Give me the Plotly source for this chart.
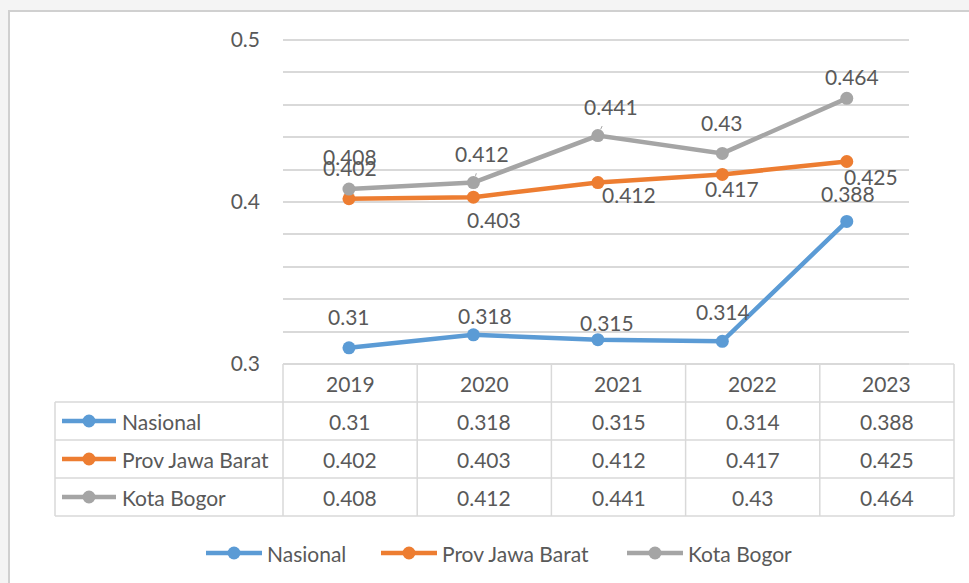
import plotly.graph_objects as go

years = ["2019", "2020", "2021", "2022", "2023"]
series_names = ["Nasional", "Prov Jawa Barat", "Kota Bogor"]
nasional = [0.31, 0.318, 0.315, 0.314, 0.388]
jabar = [0.402, 0.403, 0.412, 0.417, 0.425]
bogor = [0.408, 0.412, 0.441, 0.43, 0.464]
y_ticks = [0.3, 0.4, 0.5]

values = [nasional, jabar, bogor]
colors = ["#5B9BD5", "#ED7D31", "#A5A5A5"]
# label pixel offsets (dx, dy) relative to the point, per series
label_offsets = [
    [(0, -31), (12, -19), (9, -17), (1, -30), (1, -28)],
    [(1, -31), (21, 22), (31, 12), (10, 14), (24, 15)],
    [(1, -33), (9, -29), (13, -29), (0, -31), (5, -22)],
]
leader = {(2, 1), (2, 2)}

W, H = 969, 583
FONT = "Lato"
FS = 21
TXT = "#595959"
GRID = "#D9D9D9"


def px(x):
    return x / W


def py(y):
    return 1 - y / H


fig = go.Figure()
xs = list(range(len(years)))
for name, vals, col in zip(series_names, values, colors):
    fig.add_trace(go.Scatter(
        x=xs, y=vals, name=name, mode="lines+markers",
        line=dict(color=col, width=4.5),
        marker=dict(color=col, size=13),
        cliponaxis=False, showlegend=False, hoverinfo="skip"))

annotations = []
shapes = []

# white chart frame
shapes.append(dict(type="rect", xref="paper", yref="paper",
                   x0=px(9), x1=px(990), y0=py(600), y1=py(11),
                   fillcolor="white", line=dict(color="#D0D0D0", width=2),
                   layer="below"))

# data labels
for si, vals in enumerate(values):
    for i, v in enumerate(vals):
        dx, dy = label_offsets[si][i]
        a = dict(x=i, y=v, xref="x", yref="y", text=f"{v:g}",
                 font=dict(family=FONT, size=FS, color=TXT),
                 xanchor="center", yanchor="middle")
        if (si, i) in leader:
            a.update(showarrow=True, ax=dx, ay=dy, arrowhead=0,
                     arrowwidth=1, arrowcolor="#A5A5A5", standoff=7,
                     startstandoff=6)
        else:
            a.update(showarrow=False, xshift=dx, yshift=-dy)
        annotations.append(a)

# data table
tx0, tx1 = 283, 954
col_w = (tx1 - tx0) / len(years)
row_tops = [364, 402, 440, 478, 516]
left_x = 55
lc = dict(color=GRID, width=1.5)
shapes.append(dict(type="line", xref="paper", yref="paper",
                   x0=px(tx0), x1=px(tx1), y0=py(row_tops[0]), y1=py(row_tops[0]), line=lc))
for yy in row_tops[1:]:
    shapes.append(dict(type="line", xref="paper", yref="paper",
                       x0=px(left_x), x1=px(tx1), y0=py(yy), y1=py(yy), line=lc))
for k in range(len(years) + 1):
    xx = tx0 + k * col_w
    shapes.append(dict(type="line", xref="paper", yref="paper",
                       x0=px(xx), x1=px(xx), y0=py(row_tops[0]), y1=py(row_tops[-1]), line=lc))
shapes.append(dict(type="line", xref="paper", yref="paper",
                   x0=px(left_x), x1=px(left_x), y0=py(row_tops[1]), y1=py(row_tops[-1]), line=lc))

for k, yr in enumerate(years):
    annotations.append(dict(x=px(tx0 + (k + 0.5) * col_w), y=py((row_tops[0] + row_tops[1]) / 2),
                            xref="paper", yref="paper", text=yr, showarrow=False,
                            font=dict(family=FONT, size=FS, color=TXT),
                            xanchor="center", yanchor="middle"))
for si, (name, vals, col) in enumerate(zip(series_names, values, colors)):
    yc = (row_tops[si + 1] + row_tops[si + 2]) / 2
    shapes.append(dict(type="line", xref="paper", yref="paper",
                       x0=px(62), x1=px(116), y0=py(yc), y1=py(yc),
                       line=dict(color=col, width=4.5)))
    shapes.append(dict(type="circle", xref="paper", yref="paper",
                       x0=px(89 - 6.5), x1=px(89 + 6.5), y0=py(yc + 6.5), y1=py(yc - 6.5),
                       fillcolor=col, line=dict(color=col, width=0)))
    annotations.append(dict(x=px(120), y=py(yc), xref="paper", yref="paper", text=name,
                            showarrow=False, font=dict(family=FONT, size=FS, color=TXT),
                            xanchor="left", yanchor="middle"))
    for k, v in enumerate(vals):
        annotations.append(dict(x=px(tx0 + (k + 0.5) * col_w), y=py(yc),
                                xref="paper", yref="paper", text=f"{v:g}", showarrow=False,
                                font=dict(family=FONT, size=FS, color=TXT),
                                xanchor="center", yanchor="middle"))

# bottom legend
leg_y = 553
leg_x = [206, 381, 627]
for name, col, lx in zip(series_names, colors, leg_x):
    shapes.append(dict(type="line", xref="paper", yref="paper",
                       x0=px(lx), x1=px(lx + 56), y0=py(leg_y), y1=py(leg_y),
                       line=dict(color=col, width=4.5)))
    shapes.append(dict(type="circle", xref="paper", yref="paper",
                       x0=px(lx + 28 - 6.5), x1=px(lx + 28 + 6.5),
                       y0=py(leg_y + 6.5), y1=py(leg_y - 6.5),
                       fillcolor=col, line=dict(color=col, width=0)))
    annotations.append(dict(x=px(lx + 59), y=py(leg_y), xref="paper", yref="paper", text=name,
                            showarrow=False, font=dict(family=FONT, size=FS, color=TXT),
                            xanchor="left", yanchor="middle"))

# padding so that the 0.5 gridline is not at the very edge (plotly hides edge gridlines)
pad = 0.004
pad_px = pad * (364 - 40) / 0.2

fig.update_layout(
    width=W, height=H,
    margin=dict(l=0, r=0, t=0, b=0, pad=0, autoexpand=False),
    paper_bgcolor="#F4F4F4",
    plot_bgcolor="rgba(0,0,0,0)",
    showlegend=False,
    xaxis=dict(domain=[px(283), px(909)], range=[-0.53, 4.5], automargin=False,
               showgrid=False, zeroline=False, showticklabels=False, showline=False),
    yaxis=dict(domain=[py(364 + pad_px), py(40 - pad_px)], range=[0.3 - pad, 0.5 + pad],
               automargin=False,
               tickvals=y_ticks, ticktext=[f"{t:g}" for t in y_ticks],
               tickfont=dict(family=FONT, size=FS, color=TXT),
               ticklabelstandoff=22,
               showgrid=True, gridcolor=GRID, gridwidth=1.5,
               minor=dict(dtick=0.02, showgrid=True, gridcolor=GRID, gridwidth=1.5),
               zeroline=False, showline=False),
    shapes=shapes,
    annotations=annotations,
)

fig.write_html("out.html", config={"displayModeBar": False},
               post_script="document.body.style.margin='0';document.body.style.overflow='hidden';")
